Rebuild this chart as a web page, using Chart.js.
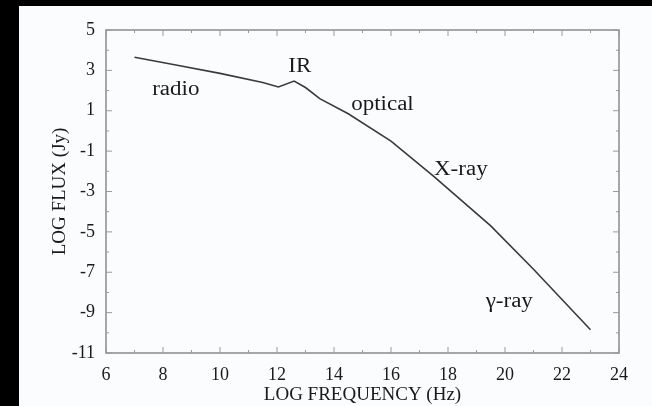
<!DOCTYPE html>
<html>
<head>
<meta charset="utf-8">
<script src="https://cdn.jsdelivr.net/npm/chart.js@4"></script>
<style>
  html, body { margin: 0; padding: 0; background: #000; }
  #wrap { position: absolute; left: 0; top: 0; width: 652px; height: 406px; }
</style>
</head>
<body>
<div id="wrap"><canvas id="c" width="652" height="406"></canvas></div>
<script>
// ---- data ----
const logFrequency = [7.0, 8.5, 10.0, 11.5, 12.05, 12.6, 13.0, 13.5, 14.5, 16.0, 17.5, 19.5, 21.0, 23.0];
const logFlux      = [3.65, 3.25, 2.85, 2.4, 2.18, 2.47, 2.15, 1.6, 0.85, -0.5, -2.25, -4.7, -6.85, -9.85];
const xTickValues  = [6, 8, 10, 12, 14, 16, 18, 20, 22, 24];
const yTickValues  = [-11, -9, -7, -5, -3, -1, 1, 3, 5];
const bandNames    = ['radio', 'IR', 'optical', 'X-ray', 'γ-ray'];
const bandX        = [8.45, 12.8, 15.7, 18.45, 20.15];
const bandY        = [2.05, 3.2, 1.3, -1.92, -8.47];

const FONT = '"Liberation Serif", "DejaVu Serif", serif';
const INK = '#1a1a1a';

const panelPlugin = {
  id: 'panel',
  beforeDraw(chart) {
    const ctx = chart.ctx;
    ctx.save();
    ctx.fillStyle = '#000';
    ctx.fillRect(0, 0, chart.width, chart.height);
    ctx.fillStyle = '#fbfcfd';
    ctx.fillRect(19, 6, chart.width - 19, chart.height - 6);
    ctx.restore();
  },
  afterDatasetsDraw(chart) {
    const ctx = chart.ctx;
    const a = chart.chartArea;
    const xs = chart.scales.x, ys = chart.scales.y;
    ctx.save();
    // box
    ctx.strokeStyle = '#8a8a8a';
    ctx.lineWidth = 1.5;
    ctx.strokeRect(a.left, a.top, a.right - a.left, a.bottom - a.top);
    // inward ticks
    ctx.lineWidth = 1;
    ctx.strokeStyle = '#9a9a9a';
    for (let v = 6; v <= 24; v += 1) {
      const px = xs.getPixelForValue(v);
      const len = (v % 2 === 0) ? 6 : 3;
      ctx.beginPath();
      ctx.moveTo(px, a.bottom); ctx.lineTo(px, a.bottom - len);
      ctx.moveTo(px, a.top); ctx.lineTo(px, a.top + len);
      ctx.stroke();
    }
    for (let v = -11; v <= 5; v += 1) {
      const py = ys.getPixelForValue(v);
      const len = (Math.abs(v) % 2 === 1) ? 6 : 3;
      ctx.beginPath();
      ctx.moveTo(a.left, py); ctx.lineTo(a.left + len, py);
      ctx.moveTo(a.right, py); ctx.lineTo(a.right - len, py);
      ctx.stroke();
    }
    // band labels (slightly stretched like the scanned original)
    ctx.fillStyle = INK;
    ctx.font = '20px ' + FONT;
    ctx.textAlign = 'center';
    ctx.textBaseline = 'middle';
    const sx = 1.15;
    bandNames.forEach((t, i) => {
      const px = xs.getPixelForValue(bandX[i]);
      const py = ys.getPixelForValue(bandY[i]);
      ctx.save();
      ctx.translate(px, py);
      ctx.scale(sx, 1);
      ctx.fillText(t, 0, 0);
      ctx.restore();
    });
    ctx.restore();
  }
};

new Chart(document.getElementById('c'), {
  type: 'scatter',
  data: {
    datasets: [{
      data: logFrequency.map((x, i) => ({ x: x, y: logFlux[i] })),
      showLine: true,
      borderColor: '#3a3a3a',
      borderWidth: 1.6,
      pointRadius: 0,
      tension: 0,
      fill: false
    }]
  },
  options: {
    responsive: false,
    animation: false,
    events: [],
    layout: { padding: { left: 49, right: 33, top: 30, bottom: 0 } },
    plugins: { legend: { display: false }, tooltip: { enabled: false } },
    scales: {
      x: {
        type: 'linear',
        min: 6, max: 24,
        afterBuildTicks(s) { s.ticks = xTickValues.map(v => ({ value: v })); },
        afterFit(s) { s.height = 53; },
        grid: { display: false, drawTicks: false },
        border: { display: false },
        ticks: { color: INK, font: { family: FONT, size: 18 }, padding: 11, maxRotation: 0 },
        title: { display: true, text: 'LOG FREQUENCY (Hz)', color: INK, font: { family: FONT, size: 19 }, padding: { top: 0, bottom: 0 } }
      },
      y: {
        type: 'linear',
        min: -11, max: 5,
        afterBuildTicks(s) { s.ticks = yTickValues.map(v => ({ value: v })); },
        afterFit(s) { s.width = 57; },
        grid: { display: false, drawTicks: false },
        border: { display: false },
        ticks: { color: INK, font: { family: FONT, size: 18 }, padding: 11 },
        title: { display: true, text: 'LOG FLUX (Jy)', color: INK, font: { family: FONT, size: 19 }, padding: { top: 0, bottom: 0 } }
      }
    }
  },
  plugins: [panelPlugin]
});
</script>
</body>
</html>
